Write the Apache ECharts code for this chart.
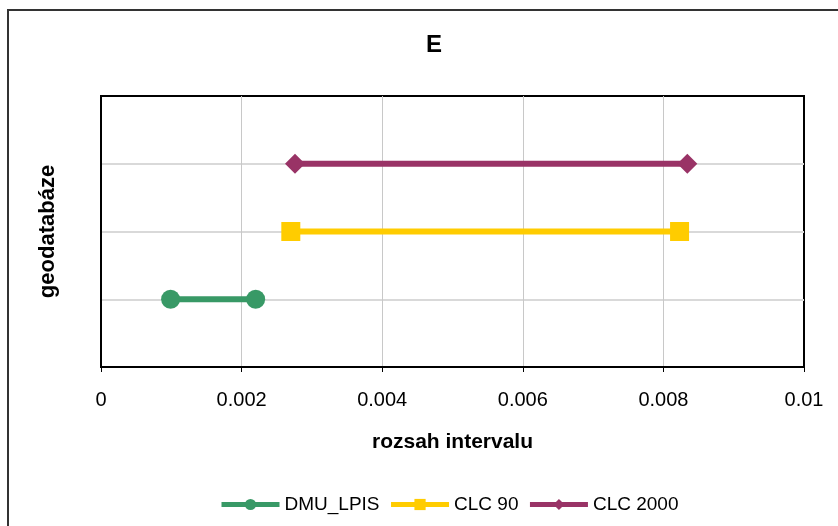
<!DOCTYPE html>
<html><head><meta charset="utf-8">
<script src="https://cdn.jsdelivr.net/npm/echarts@6/dist/echarts.min.js"></script>
<style>html,body{margin:0;padding:0;background:#fff}#c{width:838px;height:526px}</style>
</head><body><div id="c"></div>
<script>
const seriesNames = ['DMU_LPIS', 'CLC 90', 'CLC 2000'];
const dmuX = [0.00099, 0.0022];
const clc90X = [0.0027, 0.00823];
const clc2000X = [0.00276, 0.00834];
const levels = [1, 2, 3];
const xTicks = [0, 0.002, 0.004, 0.006, 0.008, 0.01];

const colors = ['#389966', '#FFCC00', '#993366'];
const symbols = ['circle', 'rect', 'diamond'];
const sizes = [19, 19, 20];
const xs = [dmuX, clc90X, clc2000X];

const chart = echarts.init(document.getElementById('c'), null, {renderer: 'canvas'});
const F = 'Arial, "Liberation Sans", sans-serif';
chart.setOption({
  backgroundColor: '#fff',
  animation: false,
  title: {text: 'E', left: 429, top: 28, textAlign: 'center',
    textStyle: {fontFamily: F, fontWeight: 'bold', fontSize: 24, color: '#000'}},
  grid: {left: 101, right: 34, top: 96, bottom: 159, show: true, borderColor: '#000', borderWidth: 2, backgroundColor: 'transparent'},
  legend: {bottom: 7, left: 214, itemWidth: 58, itemHeight: 14, itemGap: 9,
    data: seriesNames,
    lineStyle: {width: 5},
    textStyle: {fontFamily: F, fontSize: 19, color: '#000'}},
  xAxis: {type: 'value', min: 0, max: 0.01, interval: 0.002,
    name: 'rozsah intervalu', nameLocation: 'middle', nameGap: 65,
    nameTextStyle: {fontFamily: F, fontWeight: 'bold', fontSize: 21, color: '#000'},
    axisLine: {show: true, lineStyle: {color: '#000', width: 2}},
    axisTick: {show: true, length: 5, lineStyle: {color: '#000', width: 1}},
    axisLabel: {fontFamily: F, fontSize: 20, color: '#000', margin: 23,
      formatter: v => { const t = xTicks.find(k => Math.abs(k - v) < 1e-9); return t === undefined ? '' : String(t); }},
    splitLine: {show: true, lineStyle: {color: ['#000', '#c8c8c8', '#c8c8c8', '#c8c8c8', '#c8c8c8', '#000'], width: 1}}},
  yAxis: {type: 'value', min: 0, max: 4, interval: 1,
    name: 'geodatabáze', nameLocation: 'middle', nameGap: 42, nameRotate: 90,
    nameTextStyle: {fontFamily: F, fontWeight: 'bold', fontSize: 22, color: '#000'},
    axisLine: {show: true, lineStyle: {color: '#000', width: 2}},
    axisTick: {show: false}, axisLabel: {show: false},
    splitLine: {show: true, lineStyle: {color: ['#000', '#d9d9d9', '#d9d9d9', '#d9d9d9', '#000'], width: 2}}},
  graphic: [{type: 'rect', shape: {x: 8, y: 10, width: 850, height: 540}, style: {fill: 'none', stroke: '#333', lineWidth: 2}, silent: true, z: 100}],
  series: seriesNames.map((n, i) => ({
    name: n, type: 'line', data: xs[i].map(x => [x, levels[i]]),
    symbol: symbols[i], symbolSize: sizes[i], showSymbol: true,
    lineStyle: {color: colors[i], width: 6},
    itemStyle: {color: colors[i], borderWidth: 0}, z: 3 + i
  }))
});
</script></body></html>
